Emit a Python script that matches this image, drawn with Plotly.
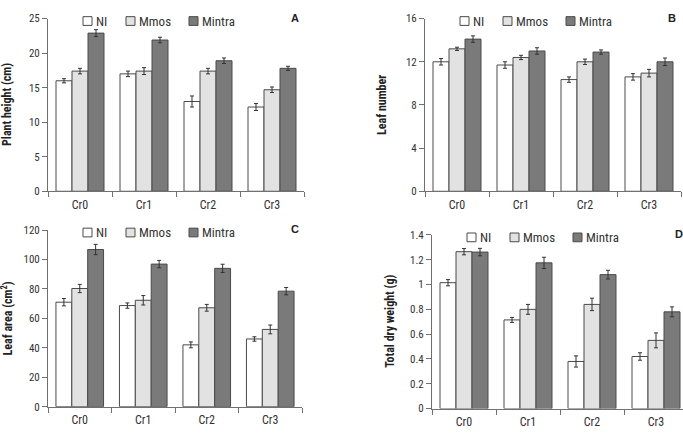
import plotly.graph_objects as go

W, H = 683, 435

categories = ["Cr0", "Cr1", "Cr2", "Cr3"]
series = ["NI", "Mmos", "Mintra"]
bar_colors = ["#ffffff", "#e2e2e2", "#7a7a7a"]

# Panel A: plant height (cm)
height_NI = [16.0, 17.0, 13.0, 12.2]
height_Mmos = [17.4, 17.4, 17.4, 14.7]
height_Mintra = [22.9, 21.9, 18.9, 17.8]
height_err_NI = [0.3, 0.4, 0.8, 0.5]
height_err_Mmos = [0.4, 0.5, 0.4, 0.4]
height_err_Mintra = [0.5, 0.4, 0.4, 0.3]

# Panel B: leaf number
leaf_NI = [12.0, 11.7, 10.35, 10.6]
leaf_Mmos = [13.2, 12.4, 12.0, 10.95]
leaf_Mintra = [14.1, 13.0, 12.9, 12.0]
leaf_err_NI = [0.3, 0.3, 0.25, 0.3]
leaf_err_Mmos = [0.15, 0.2, 0.25, 0.35]
leaf_err_Mintra = [0.3, 0.3, 0.2, 0.35]

# Panel C: leaf area (cm2)
area_NI = [71.0, 68.7, 42.0, 46.0]
area_Mmos = [80.3, 72.3, 67.2, 52.5]
area_Mintra = [106.8, 96.9, 94.0, 78.5]
area_err_NI = [2.5, 1.8, 2.0, 1.5]
area_err_Mmos = [2.8, 3.2, 2.3, 3.0]
area_err_Mintra = [3.5, 2.5, 2.8, 2.5]

# Panel D: total dry weight (g)
dry_NI = [1.015, 0.715, 0.38, 0.42]
dry_Mmos = [1.265, 0.80, 0.84, 0.55]
dry_Mintra = [1.262, 1.175, 1.08, 0.78]
dry_err_NI = [0.025, 0.02, 0.045, 0.03]
dry_err_Mmos = [0.025, 0.04, 0.05, 0.06]
dry_err_Mintra = [0.03, 0.045, 0.035, 0.04]

y_titles = ["Plant height (cm)", "Leaf number", "Leaf area (cm<sup>2</sup>)", "Total dry weight (g)"]
panel_letters = ["A", "B", "C", "D"]
y_ranges = [[0, 25], [0, 16], [0, 120], [0, 1.4]]
y_dticks = [5, 4, 20, 0.2]

panels_values = [
    ([height_NI, height_Mmos, height_Mintra], [height_err_NI, height_err_Mmos, height_err_Mintra]),
    ([leaf_NI, leaf_Mmos, leaf_Mintra], [leaf_err_NI, leaf_err_Mmos, leaf_err_Mintra]),
    ([area_NI, area_Mmos, area_Mintra], [area_err_NI, area_err_Mmos, area_err_Mintra]),
    ([dry_NI, dry_Mmos, dry_Mintra], [dry_err_NI, dry_err_Mmos, dry_err_Mintra]),
]

# layout in pixels: (x0, x1, ytop, ybottom, x-range end, title x center)
boxes = [
    (48, 304, 13, 191, 3.5, 7),
    (425, 681, 13, 191, 3.5, 382),
    (48, 302, 231, 413, 3.5, 7),
    (432, 683, 236, 415, 3.5 - 5 / 64, 390),
]

FONT = "Liberation Sans Narrow, Arial Narrow, Roboto Condensed, Liberation Sans, sans-serif"
AX = "#707070"
TXT = "#333333"

fig = go.Figure()
layout = dict(
    width=W, height=H, margin=dict(l=0, r=0, t=0, b=0),
    paper_bgcolor="white", plot_bgcolor="white",
    barmode="group", bargap=0.25, bargroupgap=0,
    showlegend=False,
    font=dict(family=FONT, size=12, color=TXT),
)
annotations = []
shapes = []

for i, ((vals, errs), (x0, x1, yt, yb, xend, tx)) in enumerate(zip(panels_values, boxes)):
    n = "" if i == 0 else str(i + 1)
    for s, name in enumerate(series):
        fig.add_trace(go.Bar(
            x=categories, y=vals[s], name=name,
            marker=dict(color=bar_colors[s], line=dict(color="#4a4a4a", width=1)),
            error_y=dict(type="data", array=errs[s], color="#333333", thickness=1, width=2),
            xaxis="x" + n, yaxis="y" + n, offsetgroup=str(s),
        ))
    layout["xaxis" + n] = dict(
        domain=[x0 / W, x1 / W], anchor="y" + n, range=[-0.5, xend],
        type="category", tickson="boundaries", ticks="outside", ticklen=5,
        tickcolor=AX, showline=True, linecolor=AX, linewidth=1, showgrid=False,
        tickfont=dict(size=12, color=TXT), fixedrange=True, ticklabelstandoff=2,
    )
    layout["yaxis" + n] = dict(
        domain=[1 - yb / H, 1 - yt / H], anchor="x" + n, range=y_ranges[i],
        dtick=y_dticks[i], ticks="outside", ticklen=5, tickcolor=AX,
        showline=True, linecolor=AX, linewidth=1, showgrid=False, zeroline=False,
        tickfont=dict(size=11, color=TXT), fixedrange=True,
    )
    # axis title
    annotations.append(dict(
        text="<b>" + y_titles[i] + "</b>", textangle=-90, xref="paper", yref="paper",
        x=tx / W, y=1 - (yt + yb) / 2 / H, xanchor="center", yanchor="middle",
        showarrow=False, font=dict(size=12, color="#222222", family=FONT),
    ))
    # panel letter
    annotations.append(dict(
        text="<b>" + panel_letters[i] + "</b>", xref="paper", yref="paper",
        x=(x0 + 247) / W, y=1 - (yt - 1) / H, xanchor="center", yanchor="middle",
        showarrow=False, font=dict(size=11, color="#222222", family="Liberation Sans, Arial, sans-serif"),
    ))
    # legend
    leg_offsets = [35, 78, 141]
    for s, name in enumerate(series):
        bx = x0 + leg_offsets[s]
        by = yt - 2
        shapes.append(dict(
            type="rect", xref="paper", yref="paper",
            x0=bx / W, x1=(bx + 9) / W, y0=1 - (by + 9) / H, y1=1 - by / H,
            fillcolor=bar_colors[s], line=dict(color="#4a4a4a", width=1),
        ))
        annotations.append(dict(
            text=name, xref="paper", yref="paper",
            x=(bx + 11) / W, y=1 - (by + 4.5) / H, xanchor="left", yanchor="middle",
            showarrow=False, font=dict(size=13, color=TXT, family=FONT),
        ))

layout["annotations"] = annotations
layout["shapes"] = shapes
fig.update_layout(**layout)
fig.write_html("out.html")
